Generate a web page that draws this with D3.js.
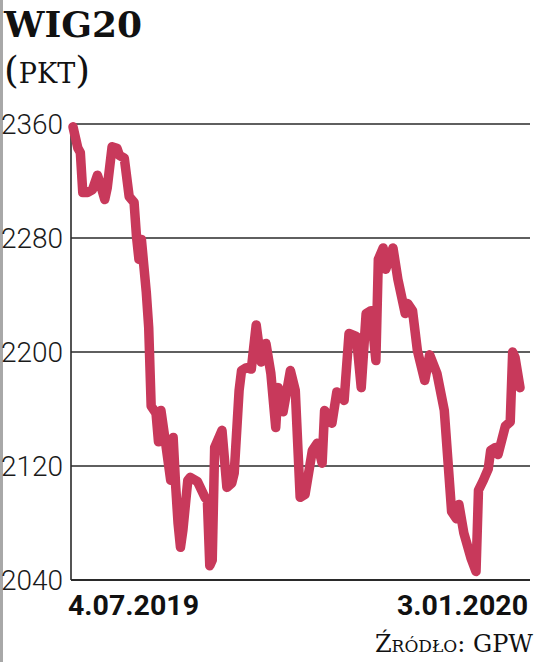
<!DOCTYPE html>
<html><head><meta charset="utf-8">
<script src="https://cdn.jsdelivr.net/npm/d3@7"></script>
<style>
html,body{margin:0;padding:0;background:#fff;}
svg{display:block;}
</style></head>
<body>
<script>
const title = "WIG20";
const unit = "(pkt)";
const source = "Źródło: GPW";
const yTicks = [2040, 2120, 2200, 2280, 2360];
const xLabels = ["4.07.2019", "3.01.2020"];
const dates = [
"2019-07-04","2019-07-06","2019-07-07","2019-07-08","2019-07-10","2019-07-12","2019-07-14","2019-07-15","2019-07-17","2019-07-18",
"2019-07-20","2019-07-22","2019-07-23","2019-07-25","2019-07-27","2019-07-29","2019-07-30","2019-07-31","2019-08-01","2019-08-03",
"2019-08-04","2019-08-05","2019-08-07","2019-08-08","2019-08-09","2019-08-11","2019-08-13","2019-08-14","2019-08-15","2019-08-16",
"2019-08-17","2019-08-18","2019-08-20","2019-08-21","2019-08-24","2019-08-27","2019-08-28","2019-08-29","2019-08-30","2019-08-31",
"2019-09-03","2019-09-05","2019-09-07","2019-09-08","2019-09-10","2019-09-11","2019-09-13","2019-09-15","2019-09-17","2019-09-19",
"2019-09-21","2019-09-23","2019-09-25","2019-09-26","2019-09-28","2019-10-01","2019-10-03","2019-10-05","2019-10-07","2019-10-10",
"2019-10-12","2019-10-14","2019-10-15","2019-10-18","2019-10-20","2019-10-23","2019-10-25","2019-10-28","2019-10-30","2019-11-01",
"2019-11-03","2019-11-05","2019-11-06","2019-11-08","2019-11-09","2019-11-12","2019-11-14","2019-11-17","2019-11-18","2019-11-20",
"2019-11-22","2019-11-25","2019-11-27","2019-11-30","2019-12-03","2019-12-06","2019-12-08","2019-12-09","2019-12-11","2019-12-14",
"2019-12-16","2019-12-17","2019-12-19","2019-12-21","2019-12-22","2019-12-24","2019-12-25","2019-12-28","2019-12-30","2019-12-31",
"2020-01-01","2020-01-03"];
const values = [
2358,2343,2340,2312,2312,2314,2324,2319,2307,2315,
2344,2343,2338,2336,2309,2305,2281,2265,2279,2242,
2217,2162,2157,2137,2159,2135,2110,2140,2107,2080,
2063,2075,2110,2112,2109,2098,2096,2050,2054,2133,
2145,2105,2108,2115,2173,2187,2189,2188,2219,2193,
2206,2185,2147,2175,2158,2187,2173,2098,2100,2131,
2136,2122,2159,2150,2172,2166,2213,2211,2175,2227,
2229,2194,2265,2273,2258,2273,2251,2227,2234,2229,
2201,2180,2198,2185,2159,2088,2083,2093,2073,2055,
2046,2103,2110,2118,2131,2133,2128,2148,2151,2200,
2196,2175];

const W = 536, H = 662;
const svg = d3.select("body").append("svg").attr("width", W).attr("height", H);

// scan edge strip
svg.append("rect").attr("x",0).attr("y",0).attr("width",3).attr("height",H).attr("fill","#a8a8a8");

const parse = d3.timeParse("%Y-%m-%d");
const data = dates.map((d,i)=>({date:parse(d), value:values[i]}));

const x = d3.scaleTime().domain([parse("2019-07-04"), parse("2020-01-03")]).range([73, 520]);
const y = d3.scaleLinear().domain([2040, 2360]).range([580, 124]);
const gridX0 = 71, gridX1 = 530;

// gridlines
svg.append("g").selectAll("line").data(yTicks).join("line")
  .attr("x1", gridX0).attr("x2", gridX1)
  .attr("y1", d=>y(d)).attr("y2", d=>y(d))
  .attr("stroke", "#2a2a2a").attr("stroke-width", d=> d===2040 ? 2 : 1.6);
// vertical axis line
svg.append("line").attr("x1", gridX0).attr("x2", gridX0)
  .attr("y1", y(2360)).attr("y2", y(2040))
  .attr("stroke","#2a2a2a").attr("stroke-width",1.6);

// y labels
svg.append("g").selectAll("text").data(yTicks).join("text")
  .attr("x", 63).attr("y", d=>y(d) + 10)
  .attr("text-anchor","end")
  .attr("font-family","Roboto, sans-serif").attr("font-weight",300)
  .attr("font-size",28).attr("fill","#1a1a1a")
  .text(d=>d);

// line
const line = d3.line().x(d=>x(d.date)).y(d=>y(d.value));
svg.append("path").datum(data)
  .attr("d", line).attr("fill","none")
  .attr("stroke","#c8395b").attr("stroke-width",9.5)
  .attr("stroke-linejoin","round").attr("stroke-linecap","round");

// x labels
svg.append("text").attr("x", 68).attr("y", 615)
  .attr("font-family","Roboto, sans-serif").attr("font-weight",700)
  .attr("font-size",28.5).attr("fill","#111").text(xLabels[0]);
svg.append("text").attr("x", 528).attr("y", 615).attr("text-anchor","end")
  .attr("font-family","Roboto, sans-serif").attr("font-weight",700)
  .attr("font-size",28.5).attr("fill","#111").text(xLabels[1]);

// title
svg.append("text").attr("x", 4).attr("y", 37)
  .attr("font-family","'DejaVu Serif', serif").attr("font-weight",700)
  .attr("font-size",36).attr("fill","#111").text(title);
svg.append("text").attr("x", 4).attr("y", 83)
  .attr("font-family","'DejaVu Serif', serif").attr("font-weight",400)
  .attr("font-size",38).attr("font-variant","small-caps").attr("fill","#111").text(unit);

// source
svg.append("text").attr("x", 533).attr("y", 652).attr("text-anchor","end")
  .attr("font-family","'DejaVu Serif', serif").attr("font-weight",400)
  .attr("font-size",24).attr("font-variant","small-caps").attr("fill","#111").text(source);
</script>
</body></html>
